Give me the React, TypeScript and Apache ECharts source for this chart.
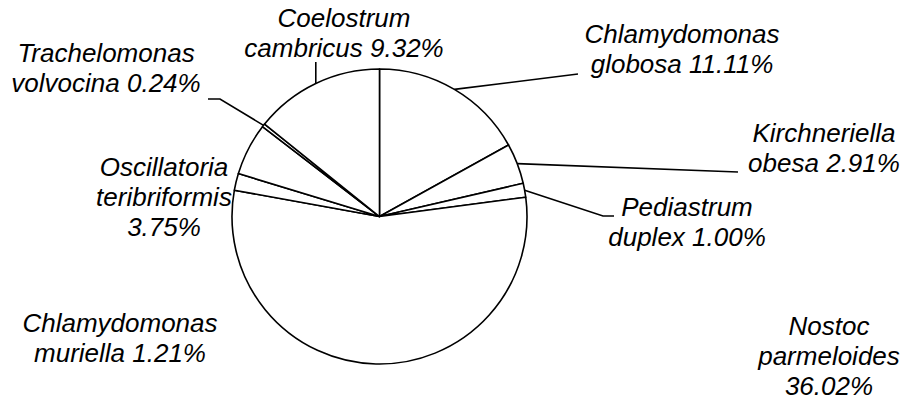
import React, { useEffect, useRef } from "react";
import * as echarts from "echarts";

// Data (clockwise from 12 o'clock)
const genus = ["Chlamydomonas", "Kirchneriella", "Pediastrum", "Nostoc", "Chlamydomonas", "Oscillatoria", "Trachelomonas", "Coelostrum"];
const species = ["globosa", "obesa", "duplex", "parmeloides", "muriella", "teribriformis", "volvocina", "cambricus"];
const values = [11.11, 2.91, 1.0, 36.02, 1.21, 3.75, 0.24, 9.32];
// whether the percentage sits on its own line
const valueOnOwnLine = [false, false, false, true, false, true, false, false];

// Label placement (layout only)
const labelX = [682, 824, 687, 829, 120, 164, 106, 344];
const labelY = [49, 148, 221.5, 356, 338, 197, 68, 33];
// leader-line points on the label side (null = no leader line); NaN x = use anchor x
const leaderEnds: (number[][] | null)[] = [
  [[578, 74]],
  [[738, 172]],
  [[603, 216], [614, 216]],
  null,
  null,
  null,
  [[220, 99], [208, 99]],
  [[NaN, 62]],
];

export default function App() {
  const ref = useRef<HTMLDivElement>(null);
  useEffect(() => {
    document.body.style.margin = "0";
    if (!ref.current) return;
    const chart = echarts.init(ref.current, undefined, { renderer: "svg" });
    const data = values.map((v, i) => ({
      value: v,
      name: genus[i] + " " + species[i],
      labelLine: { show: leaderEnds[i] !== null },
    }));
    chart.setOption({
      animation: false,
      backgroundColor: "#ffffff",
      series: [
        {
          type: "pie",
          center: [379.5, 216.5],
          radius: [0, 147.5],
          startAngle: 90,
          clockwise: true,
          avoidLabelOverlap: false,
          emphasis: { disabled: true },
          itemStyle: { color: "#ffffff", borderColor: "#000000", borderWidth: 1.6 },
          label: {
            show: true,
            position: "outside",
            color: "#000000",
            fontFamily: "Liberation Sans, Arial, sans-serif",
            fontStyle: "italic",
            fontSize: 26,
            lineHeight: 30,
            align: "center",
            formatter: (p: any) => {
              const i = p.dataIndex;
              const pct = values[i].toFixed(2) + "%";
              return valueOnOwnLine[i]
                ? `${genus[i]}\n${species[i]}\n${pct}`
                : `${genus[i]}\n${species[i]} ${pct}`;
            },
          },
          labelLine: {
            show: true,
            length: 10,
            length2: 10,
            lineStyle: { color: "#000000", width: 1.6 },
          },
          labelLayout: (params: any) => {
            const i = params.dataIndex;
            const res: any = {
              x: labelX[i],
              y: labelY[i],
              align: "center",
              verticalAlign: "middle",
            };
            const ends = leaderEnds[i];
            if (ends && params.labelLinePoints && params.labelLinePoints[0]) {
              const a = params.labelLinePoints[0];
              const pts = [[a[0], a[1]]];
              ends.forEach((e) => pts.push([isNaN(e[0]) ? a[0] : e[0], e[1]]));
              res.labelLinePoints = pts;
            }
            return res;
          },
          data,
        },
      ],
    });
    return () => chart.dispose();
  }, []);
  return <div ref={ref} style={{ width: 904, height: 405, overflow: "hidden" }} />;
}
